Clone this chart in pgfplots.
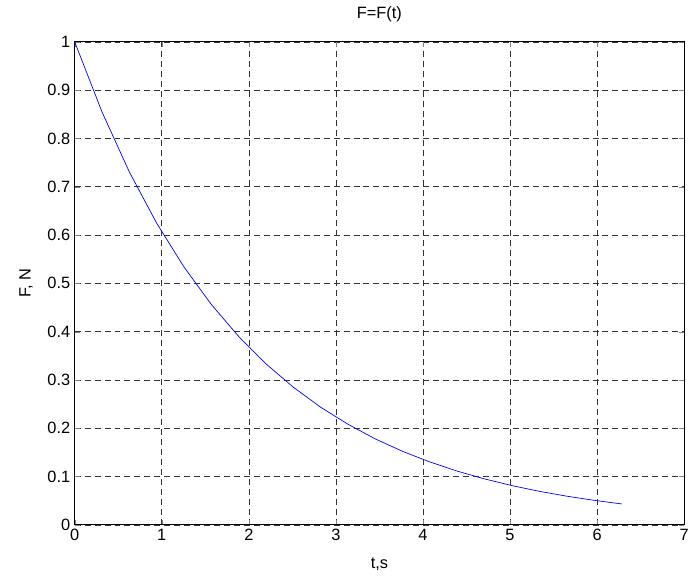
\documentclass[border=0pt]{standalone}
\usepackage{pgfplots}
\pgfplotsset{compat=1.18}
\usepackage{fontspec}
\setmainfont{Liberation Sans}
\begin{document}
\begin{tikzpicture}
    \begin{axis}[
        scale only axis,
        width=612bp,height=485bp,
        xmin=0,xmax=7,ymin=0,ymax=1,
        xtick={0,1,...,7},
        ytick={0,0.1,...,1},
        yticklabels={0,0.1,0.2,0.3,0.4,0.5,0.6,0.7,0.8,0.9,1},
        tick align=inside,
        major tick length=5bp,
        axis line style={line width=0.9bp},
        grid=major,
        major grid style={black!80,line width=0.6bp,dash pattern=on 6bp off 4bp},
        title={F=F(t)},
        xlabel={t,s},ylabel={F, N},
        every tick label/.append style={font=\fontsize{16.5}{18}\selectfont},
        xticklabel style={yshift=-1bp},
        yticklabel style={xshift=-1bp},
        label style={font=\fontsize{16.5}{18}\selectfont},
        title style={font=\fontsize{16.5}{18}\selectfont,
            at={(axis description cs:0.5,1.0454)},anchor=center},
        /pgf/number format/assume math mode=true,
        xlabel style={at={(axis description cs:0.5,-0.0825)},anchor=center},
        ylabel style={at={(axis description cs:-0.080,0.5)},anchor=center},
        clip=false
    ]
        \addplot[blue,line width=0.7bp] coordinates{
            (0,1) (0.3142,0.8546) (0.6283,0.7304) (0.9425,0.6242)
            (1.2566,0.5335) (1.5708,0.4559) (1.8850,0.3897) (2.1991,0.3330)
            (2.5133,0.2846) (2.8274,0.2432) (3.1416,0.2079) (3.4558,0.1776)
            (3.7699,0.1518) (4.0841,0.1298) (4.3982,0.1109) (4.7124,0.0948)
            (5.0265,0.0810) (5.3407,0.0692) (5.6549,0.0592) (5.9690,0.0506)
            (6.2832,0.0432)};
    \end{axis}
    \path (current axis.south west) ++(-75bp,-51bp) coordinate (bl);
    \path (current axis.north east) ++(5bp,42bp) coordinate (tr);
    \useasboundingbox (bl) rectangle (tr);
\end{tikzpicture}
\end{document}
